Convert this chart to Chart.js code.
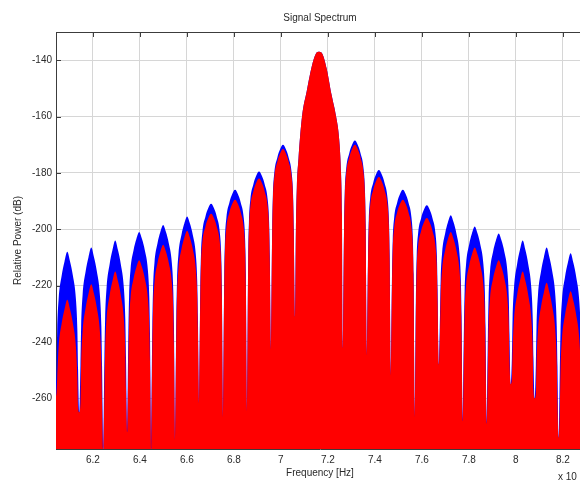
<!DOCTYPE html>
<html>
<head>
<meta charset="utf-8">
<script src="https://cdn.jsdelivr.net/npm/chart.js@4/dist/chart.umd.min.js"></script>
<style>
  html, body { margin: 0; padding: 0; background: #fff; overflow: hidden; }
  #spectrum { display: block; }
</style>
</head>
<body>
<canvas id="spectrum" width="600" height="483"></canvas>
<script>
// frequency samples (x 10^9 Hz), one row per lobe, each row starts at a null
const freq = [
  6.040, 6.045, 6.048, 6.054, 6.067, 6.079, 6.091, 6.103, 6.115, 6.128, 6.134, 6.137,
  6.142, 6.147, 6.150, 6.156, 6.169, 6.181, 6.193, 6.205, 6.217, 6.230, 6.236, 6.239,
  6.244, 6.249, 6.252, 6.258, 6.271, 6.283, 6.295, 6.307, 6.319, 6.332, 6.338, 6.341,
  6.346, 6.351, 6.354, 6.360, 6.373, 6.385, 6.397, 6.409, 6.421, 6.434, 6.440, 6.443,
  6.448, 6.453, 6.456, 6.462, 6.475, 6.487, 6.499, 6.511, 6.523, 6.536, 6.542, 6.545,
  6.550, 6.555, 6.558, 6.564, 6.577, 6.589, 6.601, 6.613, 6.625, 6.638, 6.644, 6.647,
  6.652, 6.657, 6.660, 6.666, 6.679, 6.691, 6.703, 6.715, 6.727, 6.740, 6.746, 6.749,
  6.754, 6.759, 6.762, 6.768, 6.781, 6.793, 6.805, 6.817, 6.829, 6.842, 6.848, 6.851,
  6.856, 6.861, 6.864, 6.870, 6.883, 6.895, 6.907, 6.919, 6.931, 6.944, 6.950, 6.953,
  6.958, 6.963, 6.966, 6.972, 6.985, 6.997, 7.009, 7.021, 7.033, 7.046, 7.052, 7.055,
  7.060, 7.064, 7.068, 7.075, 7.090, 7.110, 7.135, 7.150, 7.162, 7.175, 7.195, 7.215, 7.235, 7.248, 7.256, 7.260,
  7.264, 7.269, 7.272, 7.278, 7.291, 7.303, 7.315, 7.327, 7.339, 7.352, 7.358, 7.361,
  7.366, 7.371, 7.374, 7.380, 7.393, 7.405, 7.417, 7.429, 7.441, 7.454, 7.460, 7.463,
  7.468, 7.473, 7.476, 7.482, 7.495, 7.507, 7.519, 7.531, 7.543, 7.556, 7.562, 7.565,
  7.570, 7.575, 7.578, 7.584, 7.597, 7.609, 7.621, 7.633, 7.645, 7.658, 7.664, 7.667,
  7.672, 7.677, 7.680, 7.686, 7.699, 7.711, 7.723, 7.735, 7.747, 7.760, 7.766, 7.769,
  7.774, 7.779, 7.782, 7.788, 7.801, 7.813, 7.825, 7.837, 7.849, 7.862, 7.868, 7.871,
  7.876, 7.881, 7.884, 7.890, 7.903, 7.915, 7.927, 7.939, 7.951, 7.964, 7.970, 7.973,
  7.978, 7.983, 7.986, 7.992, 8.005, 8.017, 8.029, 8.041, 8.053, 8.066, 8.072, 8.075,
  8.080, 8.085, 8.088, 8.094, 8.107, 8.119, 8.131, 8.143, 8.155, 8.168, 8.174, 8.177,
  8.182, 8.187, 8.190, 8.196, 8.209, 8.221, 8.233, 8.245, 8.257, 8.270, 8.276, 8.279,
  8.284, 8.289, 8.292, 8.298,
];

// unfiltered spectrum (blue), dB
const powerRaw = [
  -260, -250, -236, -225, -216.5, -211.5, -208, -211.5, -216.5, -225, -236, -250,
  -265, -248.5, -234.5, -223.5, -215, -210, -206.5, -210, -215, -223.5, -234.5, -248.5,
  -279, -246, -232, -221, -212.5, -207.5, -204, -207.5, -212.5, -221, -232, -246,
  -272, -237, -224, -214.5, -207.5, -203.5, -201, -203.5, -207.5, -214.5, -224, -237,
  -279, -234.5, -221.5, -212, -205, -201, -198.5, -201, -205, -212, -221.5, -234.5,
  -275, -231.5, -218.5, -209, -202, -198, -195.5, -198, -202, -209, -218.5, -231.5,
  -262, -221, -209, -201, -195.5, -192.5, -191, -192.5, -195.5, -201, -209, -221,
  -267, -216, -204, -196, -190.5, -187.5, -186, -187.5, -190.5, -196, -204, -216,
  -265, -209.5, -197.5, -189.5, -184, -181, -179.5, -181, -184, -189.5, -197.5, -209.5,
  -243, -200, -188, -180, -174.5, -171.5, -170, -171.5, -174.5, -180, -188, -200,
  -231, -200, -185, -175, -160, -151, -141, -137.5, -137, -137.5, -143, -152, -160, -168, -180, -195,
  -242, -198.5, -186.5, -178.5, -173, -170, -168.5, -170, -173, -178.5, -186.5, -198.5,
  -245, -209, -197, -189, -183.5, -180.5, -179, -180.5, -183.5, -189, -197, -209,
  -252, -216, -204, -196, -190.5, -187.5, -186, -187.5, -190.5, -196, -204, -216,
  -267, -221.5, -209.5, -201.5, -196, -193, -191.5, -193, -196, -201.5, -209.5, -221.5,
  -248, -231, -218, -208.5, -201.5, -197.5, -195, -197.5, -201.5, -208.5, -218, -231,
  -268, -235, -222, -212.5, -205.5, -201.5, -199, -201.5, -205.5, -212.5, -222, -235,
  -269, -237.5, -224.5, -215, -208, -204, -201.5, -204, -208, -215, -224.5, -237.5,
  -255, -246, -232, -221, -212.5, -207.5, -204, -207.5, -212.5, -221, -232, -246,
  -260, -248.5, -234.5, -223.5, -215, -210, -206.5, -210, -215, -223.5, -234.5, -248.5,
  -274, -250.5, -236.5, -225.5, -217, -212, -208.5, -212, -217, -225.5, -236.5, -250.5,
  -265, -251, -237, -226,
];

// filtered spectrum (red), dB
const powerFiltered = [
  -260, -258, -253, -242, -233.5, -228.5, -225, -228.5, -233.5, -242, -253, -263,
  -265, -261.5, -247.5, -236.5, -228, -223, -219.5, -223, -228, -236.5, -247.5, -261.5,
  -279, -257, -243, -232, -223.5, -218.5, -215, -218.5, -223.5, -232, -243, -257,
  -272, -247, -234, -224.5, -217.5, -213.5, -211, -213.5, -217.5, -224.5, -234, -247,
  -279, -241.5, -228.5, -219, -212, -208, -205.5, -208, -212, -219, -228.5, -241.5,
  -275, -236.5, -223.5, -214, -207, -203, -200.5, -203, -207, -214, -223.5, -236.5,
  -262, -224.5, -212.5, -204.5, -199, -196, -194.5, -196, -199, -204.5, -212.5, -224.5,
  -267, -219.5, -207.5, -199.5, -194, -191, -189.5, -191, -194, -199.5, -207.5, -219.5,
  -265, -212, -200, -192, -186.5, -183.5, -182, -183.5, -186.5, -192, -200, -212,
  -243, -201.5, -189.5, -181.5, -176, -173, -171.5, -173, -176, -181.5, -189.5, -201.5,
  -231, -200, -185, -175, -160, -151, -141, -137.5, -137, -137.5, -143, -152, -160, -168, -180, -195,
  -242, -200, -188, -180, -174.5, -171.5, -170, -171.5, -174.5, -180, -188, -200,
  -245, -211.5, -199.5, -191.5, -186, -183, -181.5, -183, -186, -191.5, -199.5, -211.5,
  -252, -219.5, -207.5, -199.5, -194, -191, -189.5, -191, -194, -199.5, -207.5, -219.5,
  -267, -226, -214, -206, -200.5, -197.5, -196, -197.5, -200.5, -206, -214, -226,
  -248, -237, -224, -214.5, -207.5, -203.5, -201, -203.5, -207.5, -214.5, -224, -237,
  -268, -242.5, -229.5, -220, -213, -209, -206.5, -209, -213, -220, -229.5, -242.5,
  -269, -247, -234, -224.5, -217.5, -213.5, -211, -213.5, -217.5, -224.5, -234, -247,
  -255, -253, -243, -232, -223.5, -218.5, -215, -218.5, -223.5, -232, -243, -257,
  -260, -258, -247, -236, -227.5, -222.5, -219, -222.5, -227.5, -236, -247, -261,
  -274, -264, -250, -239, -230.5, -225.5, -222, -225.5, -230.5, -239, -250, -263,
  -265, -263, -252, -241,
];

const xTicks = [6.2, 6.4, 6.6, 6.8, 7.0, 7.2, 7.4, 7.6, 7.8, 8.0, 8.2];
const yTicks = [-260, -240, -220, -200, -180, -160, -140];

const fontFamily = "'Liberation Sans', Arial, Helvetica, sans-serif";
const textColor = '#2a2a2a';
const axisColor = '#3c3c3c';
const gridColor = '#d6d6d6';

const toPoints = (ys) => freq.map((f, i) => ({ x: f, y: ys[i] }));

// box outline, inward tick marks and the axis multiplier
const axesBox = {
  id: 'axesBox',
  beforeDatasetsDraw(chart) {
    const { ctx, chartArea: a, scales: { x, y } } = chart;
    ctx.save();
    ctx.strokeStyle = axisColor;
    ctx.lineWidth = 1;
    ctx.beginPath();
    ctx.moveTo(a.left, Math.round(a.top) + 0.5);
    ctx.lineTo(a.right, Math.round(a.top) + 0.5);
    xTicks.forEach((v) => {
      const px = Math.round(x.getPixelForValue(v)) + 0.5;
      ctx.moveTo(px, a.top);
      ctx.lineTo(px, a.top + 5);
    });
    yTicks.forEach((v) => {
      const py = Math.round(y.getPixelForValue(v)) + 0.5;
      ctx.moveTo(a.left, py);
      ctx.lineTo(a.left + 5, py);
    });
    ctx.stroke();
    ctx.restore();
  },
  afterDraw(chart) {
    const { ctx, chartArea: a } = chart;
    ctx.save();
    ctx.fillStyle = textColor;
    ctx.font = '10px ' + fontFamily;
    ctx.textBaseline = 'middle';
    ctx.fillText('x 10', a.right - 26, a.bottom + 28);
    ctx.restore();
  },
};

const config = {
  type: 'line',
  data: {
    datasets: [
      {
        label: 'Filtered',
        data: toPoints(powerFiltered),
        borderColor: 'rgba(0,0,0,0)',
        backgroundColor: '#ff0000',
        borderWidth: 0,
        fill: 'start',
        pointRadius: 0,
        cubicInterpolationMode: 'monotone',
        order: 0,
      },
      {
        label: 'Raw',
        data: toPoints(powerRaw),
        borderColor: 'rgba(0,0,0,0)',
        backgroundColor: '#0000ff',
        borderWidth: 0,
        fill: 'start',
        pointRadius: 0,
        cubicInterpolationMode: 'monotone',
        order: 1,
      },
    ],
  },
  options: {
    responsive: false,
    animation: false,
    layout: { padding: { left: 0, right: 16, top: 0, bottom: 0 } },
    plugins: {
      legend: { display: false },
      tooltip: { enabled: false },
      title: {
        display: true,
        text: 'Signal Spectrum',
        fullSize: false,
        color: textColor,
        font: { family: fontFamily, size: 10, weight: 'normal' },
        padding: { top: 12, bottom: 8 },
      },
    },
    scales: {
      x: {
        type: 'linear',
        min: 6.043,
        max: 8.29,
        afterBuildTicks: (s) => { s.ticks = xTicks.map((v) => ({ value: v })); },
        afterFit: (s) => { s.height = 34; },
        ticks: {
          color: textColor,
          font: { family: fontFamily, size: 10 },
          padding: 5,
          maxRotation: 0,
          autoSkip: false,
          callback: (v) => String(Math.round(v * 10) / 10),
        },
        grid: { color: gridColor, drawTicks: false },
        border: { color: axisColor },
        title: {
          display: true,
          text: 'Frequency [Hz]',
          color: textColor,
          font: { family: fontFamily, size: 10 },
          padding: { top: 0, bottom: 4 },
        },
      },
      y: {
        type: 'linear',
        min: -278,
        max: -130,
        afterBuildTicks: (s) => { s.ticks = yTicks.map((v) => ({ value: v })); },
        afterFit: (s) => { s.width = 56; },
        ticks: {
          color: textColor,
          font: { family: fontFamily, size: 10 },
          padding: 4,
        },
        grid: { color: gridColor, drawTicks: false },
        border: { color: axisColor },
        title: {
          display: true,
          text: 'Relative Power (dB)',
          color: textColor,
          font: { family: fontFamily, size: 10 },
          padding: { top: 12, bottom: 0 },
        },
      },
    },
  },
  plugins: [axesBox],
};

var spectrumChart = new Chart(document.getElementById('spectrum'), config);
</script>
</body>
</html>
